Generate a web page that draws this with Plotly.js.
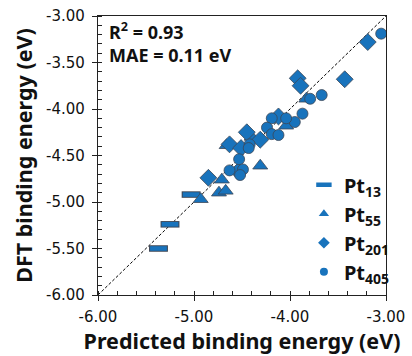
<!DOCTYPE html>
<html>
<head>
<meta charset="utf-8">
<script src="https://cdn.plot.ly/plotly-3.0.1.min.js"></script>
<style>html,body{margin:0;padding:0;background:#fff;}#chart{width:412px;height:356px;}</style>
</head>
<body>
<div id="chart"></div>
<script>
// Predicted (x) and DFT (y) binding energies, eV
const pt13Pred = [-5.37, -5.25, -5.03];
const pt13DFT  = [-5.50, -5.24, -4.92];

const pt55Pred = [-4.93, -4.74, -4.67, -4.71, -4.31, -4.66, -4.04, -3.83, -4.40];
const pt55DFT  = [-4.97, -4.90, -4.88, -4.76, -4.61, -4.39, -4.18, -3.89, -4.30];

const pt201Pred = [-3.92, -3.89, -3.43, -3.19, -4.12, -4.45, -4.31, -4.63, -4.51, -4.85, -4.54];
const pt201DFT  = [-3.67, -3.75, -3.68, -3.28, -4.08, -4.25, -4.33, -4.38, -4.42, -4.74, -4.67];

const pt405Pred = [-3.05, -3.67, -3.79, -3.87, -3.95, -4.04, -4.19, -4.24, -4.19, -4.12, -4.42, -4.43, -4.53, -4.63, -4.49, -4.52];
const pt405DFT  = [-3.19, -3.85, -3.89, -4.05, -4.14, -4.10, -4.10, -4.20, -4.27, -4.28, -4.38, -4.42, -4.54, -4.66, -4.65, -4.71];

const parityLine = [-6, -3];
const seriesNames = ['Pt<sub>13</sub>', 'Pt<sub>55</sub>', 'Pt<sub>201</sub>', 'Pt<sub>405</sub>'];
const statsText = ['R<sup>2</sup> = 0.93', 'MAE = 0.11 eV'];

const blue = 'rgb(24,115,188)';
const edge = 'rgb(60,70,85)';
const lineEdge = {color: edge, width: 0.8};

const traces = [
  {x: parityLine, y: parityLine, mode: 'lines', line: {color: '#000', width: 1, dash: '3px,2px'}, showlegend: false, hoverinfo: 'skip'},
  {x: pt13Pred, y: pt13DFT, mode: 'markers', showlegend: false,
   marker: {symbol: 'line-ew', size: 13.5, color: edge, line: {color: edge, width: 6.5}}},
  {x: pt13Pred, y: pt13DFT, mode: 'markers', showlegend: false,
   marker: {symbol: 'line-ew', size: 12, color: blue, line: {color: blue, width: 4.6}}},
  {x: pt55Pred, y: pt55DFT, mode: 'markers', showlegend: false,
   marker: {symbol: 'triangle-up', size: 13, color: blue, line: lineEdge}},
  {x: pt201Pred, y: pt201DFT, mode: 'markers', showlegend: false,
   marker: {symbol: 'diamond', size: 13, color: blue, line: lineEdge}},
  {x: pt405Pred, y: pt405DFT, mode: 'markers', showlegend: false,
   marker: {symbol: 'circle', size: 11, color: blue, line: lineEdge}},
  // legend entries (smaller symbols, as in the reference legend)
  {x: [null], y: [null], mode: 'markers', name: seriesNames[0],
   marker: {symbol: 'line-ew', size: 11, color: blue, line: {color: blue, width: 4.5}}},
  {x: [null], y: [null], mode: 'markers', name: seriesNames[1],
   marker: {symbol: 'triangle-up', size: 9, color: blue, line: {color: blue, width: 0}}},
  {x: [null], y: [null], mode: 'markers', name: seriesNames[2],
   marker: {symbol: 'diamond', size: 9, color: blue, line: {color: blue, width: 0}}},
  {x: [null], y: [null], mode: 'markers', name: seriesNames[3],
   marker: {symbol: 'circle', size: 8, color: blue, line: {color: blue, width: 0}}},
  // invisible trace to activate overlay axes (crossing major ticks)
  {x: parityLine, y: parityLine, xaxis: 'x2', yaxis: 'y2', mode: 'markers', marker: {opacity: 0}, showlegend: false, hoverinfo: 'skip'}
];

const tickFont = {family: 'DejaVu Sans, sans-serif', size: 15, color: '#111'};
const titleFont = {family: 'Noto Sans, sans-serif', size: 21.5, color: '#111', weight: 'bold'};

const layout = {
  width: 412, height: 356,
  margin: {l: 98, r: 26, t: 16, b: 61},
  paper_bgcolor: '#fff', plot_bgcolor: '#fff',
  showlegend: true,
  xaxis: {
    range: [-6, -3], tickvals: [-6, -5, -4, -3], ticktext: ['-6.00', '-5.00', '-4.00', '-3.00'],
    ticks: 'outside', ticklen: 5, tickwidth: 1, tickcolor: '#222',
    minor: {dtick: 0.2, ticks: 'inside', ticklen: 4, tickcolor: '#222', tickwidth: 1},
    showline: true, linecolor: '#222', linewidth: 1.2, mirror: true,
    showgrid: false, zeroline: false,
    tickfont: tickFont, ticklabelstandoff: 3,
    title: {text: '<b>Predicted binding energy (eV)</b>', font: titleFont, standoff: 6}
  },
  yaxis: {
    range: [-6, -3], tickvals: [-6, -5.5, -5, -4.5, -4, -3.5, -3],
    ticktext: ['-6.00', '-5.50', '-5.00', '-4.50', '-4.00', '-3.50', '-3.00'],
    ticks: 'outside', ticklen: 5, tickwidth: 1, tickcolor: '#222',
    minor: {dtick: 0.1, ticks: 'inside', ticklen: 4, tickcolor: '#222', tickwidth: 1},
    showline: true, linecolor: '#222', linewidth: 1.2, mirror: true,
    showgrid: false, zeroline: false,
    tickfont: tickFont, ticklabelstandoff: 4,
    title: {text: '<b>DFT binding energy (eV)</b>', font: titleFont, standoff: 7}
  },
  xaxis2: {overlaying: 'x', range: [-6, -3], tickvals: [-6, -5, -4, -3], ticks: 'inside', ticklen: 4,
           tickcolor: '#222', showticklabels: false, showgrid: false, zeroline: false, showline: false},
  yaxis2: {overlaying: 'y', range: [-6, -3], tickvals: [-6, -5.5, -5, -4.5, -4, -3.5, -3], ticks: 'inside', ticklen: 4,
           tickcolor: '#222', showticklabels: false, showgrid: false, zeroline: false, showline: false},
  legend: {
    x: 0.715, y: 0.465, xanchor: 'left', yanchor: 'top',
    bgcolor: 'rgba(0,0,0,0)', borderwidth: 0,
    font: {family: 'Noto Sans, sans-serif', size: 20, color: '#111', weight: 'bold'},
    itemwidth: 30, tracegroupgap: 0
  },
  annotations: [
    {xref: 'paper', yref: 'paper', x: 0.03, y: 0.946, xanchor: 'left', yanchor: 'middle', showarrow: false,
     text: '<b>' + statsText[0] + '</b>', font: {family: 'Noto Sans, sans-serif', size: 18, color: '#111'}},
    {xref: 'paper', yref: 'paper', x: 0.03, y: 0.862, xanchor: 'left', yanchor: 'middle', showarrow: false,
     text: '<b>' + statsText[1] + '</b>', font: {family: 'Noto Sans, sans-serif', size: 18, color: '#111'}}
  ]
};

Plotly.newPlot('chart', traces, layout, {displayModeBar: false, staticPlot: true});
</script>
</body>
</html>
